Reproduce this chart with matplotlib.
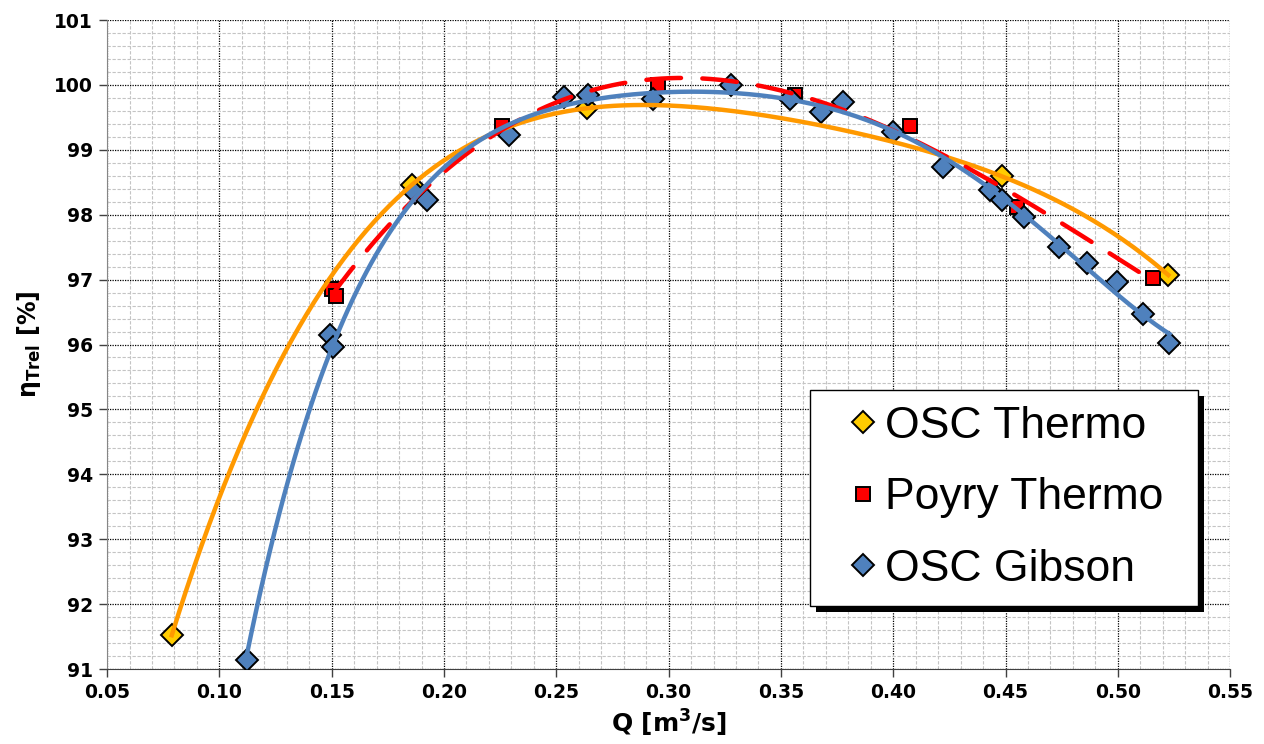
import numpy as np
import matplotlib
matplotlib.use("Agg")
import matplotlib.pyplot as plt
from matplotlib.ticker import MultipleLocator, FormatStrFormatter
from matplotlib.patches import Rectangle
from matplotlib.transforms import IdentityTransform

plt.rcParams["font.family"] = ["DejaVu Sans"]

# ── Data ─────────────────────────────────────────────────────────────────────
osc_thermo_q = [0.0788, 0.1857, 0.2636, 0.4485, 0.5225]
osc_thermo_eta = [91.52, 98.46, 99.64, 98.59, 97.07]

poyry_q = [0.1503, 0.1518, 0.2257, 0.2952, 0.3563, 0.4075, 0.4553, 0.5156]
poyry_eta = [96.85, 96.75, 99.36, 100.0, 99.85, 99.36, 98.12, 97.02]

gibson_q = [0.1122, 0.1493, 0.1508, 0.1871, 0.1923, 0.2291, 0.2535, 0.2643,
            0.2929, 0.3278, 0.3540, 0.3680, 0.3778, 0.4001, 0.4223, 0.4431,
            0.4483, 0.4583, 0.4736, 0.4865, 0.4996, 0.5112, 0.5230]
gibson_eta = [91.14, 96.15, 95.96, 98.33, 98.23, 99.23, 99.81, 99.84,
              99.78, 100.0, 99.78, 99.59, 99.73, 99.28, 98.74, 98.38,
              98.23, 97.97, 97.51, 97.25, 96.97, 96.47, 96.03]

labels = ["OSC Thermo", "Poyry Thermo", "OSC Gibson"]


def trend(q, eta, deg):
    # polynomial trend line over the range of the series
    q = np.asarray(q)
    coef = np.polyfit(q, eta, deg)
    xs = np.linspace(q.min(), q.max(), 400)
    return xs, np.polyval(coef, xs)


# ── Figure ───────────────────────────────────────────────────────────────────
fig = plt.figure(figsize=(12.64, 7.44), dpi=100, facecolor="white")
ax = fig.add_axes([0.0847, 0.1008, 0.8885, 0.8723])

ax.set_xlim(0.05, 0.55)
ax.set_ylim(91, 101)
ax.xaxis.set_major_locator(MultipleLocator(0.05))
ax.xaxis.set_minor_locator(MultipleLocator(0.01))
ax.yaxis.set_major_locator(MultipleLocator(1))
ax.yaxis.set_minor_locator(MultipleLocator(0.2))
ax.xaxis.set_major_formatter(FormatStrFormatter("%.2f"))

ax.grid(which="minor", color="#c4c4c4", linestyle=(0, (3, 1.5)), linewidth=0.8)
ax.grid(which="major", color="black", linestyle=(0, (1, 1)), linewidth=0.9)
ax.set_axisbelow(True)

for s in ["top", "right"]:
    ax.spines[s].set_visible(False)
ax.spines["left"].set_color("#868686")
ax.spines["bottom"].set_color("#404040")

ax.tick_params(which="major", direction="out", length=6, width=1,
               labelsize=13.5, pad=4, color="#404040")
ax.tick_params(which="minor", length=0)
for t in ax.get_xticklabels() + ax.get_yticklabels():
    t.set_fontweight("bold")

# markers
ax.plot(osc_thermo_q, osc_thermo_eta, linestyle="none", marker="D", ms=11.5,
        mfc="#FFCC00", mec="black", mew=1.4, zorder=3, label=labels[0])
ax.plot(poyry_q, poyry_eta, linestyle="none", marker="s", ms=10.5,
        mfc="#FF0000", mec="black", mew=1.4, zorder=3, label=labels[1])
ax.plot(gibson_q, gibson_eta, linestyle="none", marker="D", ms=11.5,
        mfc="#4F81BD", mec="black", mew=1.4, zorder=3, label=labels[2])

# polynomial trend lines
xs, ys = trend(osc_thermo_q, osc_thermo_eta, 4)
ax.plot(xs, ys, color="#FF9900", linewidth=3.2, zorder=4)
xs, ys = trend(poyry_q, poyry_eta, 3)
ax.plot(xs, ys, color="#FF0000", linewidth=3.2, dashes=(7.8, 4.8),
        dash_capstyle="round", zorder=5)
xs, ys = trend(gibson_q, gibson_eta, 5)
ax.plot(xs, ys, color="#4F81BD", linewidth=3.2, zorder=6)

ax.set_xlabel("Q [m$^\\mathregular{3}$/s]", fontsize=18, fontweight="bold",
              labelpad=4)
ax.set_ylabel("η$_\\mathregular{Trel}$ [%]", fontsize=17, fontweight="bold",
              labelpad=8)

leg = ax.legend(loc="lower left", bbox_to_anchor=(0.626, 0.097, 0.3455, 0.3375),
                mode="expand", prop={"family": "Liberation Sans", "size": 32},
                frameon=True, fancybox=False, framealpha=1, edgecolor="black",
                borderpad=0.36, labelspacing=0.69, handletextpad=-0.34,
                handlelength=1.67, markerscale=0.95, borderaxespad=0)
leg.get_frame().set_linewidth(1)
leg.set_zorder(8)

# black drop shadow behind the legend box
fig.canvas.draw()
bb = leg.get_frame().get_window_extent()
ax.add_artist(Rectangle((bb.x0 + 6, bb.y0 - 6), bb.width, bb.height,
                        transform=IdentityTransform(), facecolor="black",
                        edgecolor="none", zorder=7, clip_on=False))

fig.savefig("out.png", dpi=100, facecolor="white")
